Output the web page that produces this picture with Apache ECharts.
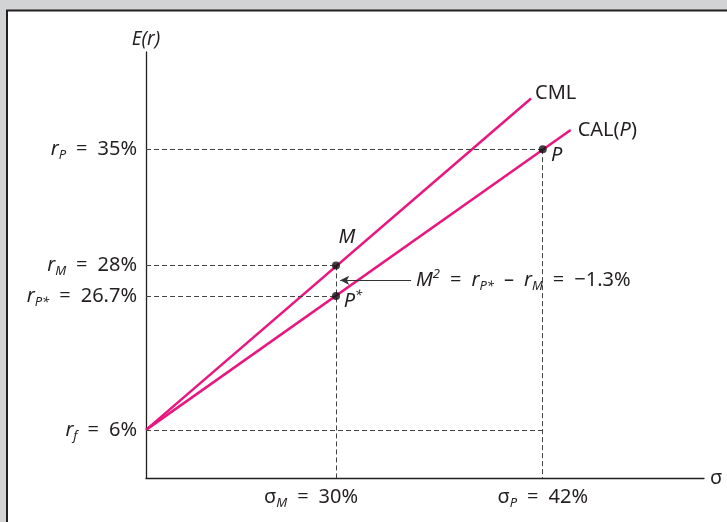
<!DOCTYPE html>
<html><head><meta charset="utf-8">
<script src="https://cdn.jsdelivr.net/npm/echarts@6/dist/echarts.min.js"></script>
<style>html,body{margin:0;padding:0;background:#d1d3d4}#c{width:727px;height:522px}</style>
</head><body><div id="c"></div>
<script>
// Schematic diagram positions (axis units 0-100, the figure is not to scale)
const rfPos = 11.3;
const pointNames = ['M', 'P*', 'P'];
const pointX = [34.05, 34.05, 71.1];
const pointY = [49.9, 42.7, 77.2];
const cmlX = [0, 69.0];
const cmlY = [11.3, 89.1];
const calX = [0, 76.1];
const calY = [11.3, 81.7];
// Tick labels
const yTickPos = [77.2, 49.9, 42.7, 11.3];
const yTickSub = ['P', 'M', 'P*', 'f'];
const yTickText = ['35%', '28%', '26.7%', '6%'];
const xTickPos = [34.05, 71.1];
const xTickSub = ['M', 'P'];
const xTickText = ['30%', '42%'];
const m2Value = '−1.3%';

const PINK = '#e8177f';
const TXT = '#231f20';
const FONT = '"Noto Sans", sans-serif';
const SP = '\u2002';
const FS = 20;

const richBase = {
  n: { fontSize: FS, color: TXT, fontFamily: FONT },
  i: { fontSize: FS, color: TXT, fontFamily: FONT, fontStyle: 'italic' },
  sub: { fontSize: 13, color: TXT, fontFamily: FONT, fontStyle: 'italic', padding: [12, 0, 0, 0] },
  sup: { fontSize: 13, color: TXT, fontFamily: FONT, fontStyle: 'italic', padding: [0, 0, 12, 0] },
  s: { fontSize: FS, color: TXT, fontFamily: FONT },
  padR: { fontSize: FS, color: TXT, fontFamily: FONT, padding: [0, 50, 0, 0] }
};

function idxOf(arr, v) {
  let best = 0, d = Infinity;
  arr.forEach((a, k) => { if (Math.abs(a - v) < d) { d = Math.abs(a - v); best = k; } });
  return best;
}

// dashed guide segments derived from points
const guide = [];
guide.push([[0, pointY[2]], [pointX[2], pointY[2]]]);
guide.push([[0, pointY[0]], [pointX[0], pointY[0]]]);
guide.push([[0, pointY[1]], [pointX[1], pointY[1]]]);
guide.push([[0, rfPos], [pointX[2], rfPos]]);
guide.push([[pointX[0], pointY[0]], [pointX[0], 0]]);
guide.push([[pointX[2], pointY[2]], [pointX[2], 0]]);

const pointLabels = {
  'M': { formatter: '{i|M}', offset: [11, -28] },
  'P*': { formatter: '{i|P}{sup|*}', offset: [17, 5] },
  'P': { formatter: '{i|P}', offset: [14, 6] }
};

const chart = echarts.init(document.getElementById('c'), null, { renderer: 'canvas' });
chart.setOption({
  animation: false,
  backgroundColor: '#d1d3d4',
  graphic: [{
    type: 'rect', z: -10, silent: true,
    shape: { x: 7, y: 10.5, width: 740, height: 530 },
    style: { fill: '#ffffff', stroke: '#231f20', lineWidth: 2 }
  }],
  grid: { left: 146, right: 23, top: 52, bottom: 44 },
  xAxis: {
    type: 'value', min: 0, max: 100,
    name: 'σ', nameLocation: 'end', nameGap: 6,
    nameTextStyle: { fontSize: 20, color: TXT, fontFamily: FONT, verticalAlign: 'middle', padding: [0, 0, 3, 0] },
    axisLine: { show: true, lineStyle: { color: '#231f20', width: 1.3 } },
    axisTick: { show: false },
    splitLine: { show: false },
    axisLabel: {
      customValues: xTickPos, margin: 7, rich: richBase,
      formatter: v => {
        const k = idxOf(xTickPos, v);
        const tail = k === 0 ? '{padR|' + SP + '=' + SP + xTickText[k] + '}' : '{n|' + SP + '=' + SP + xTickText[k] + '}';
        return '{s|σ}{sub|' + xTickSub[k] + '}' + tail;
      }
    }
  },
  yAxis: {
    type: 'value', min: 0, max: 100,
    name: 'E(r)', nameLocation: 'end', nameGap: 3,
    nameTextStyle: { fontSize: 19, color: TXT, fontFamily: FONT, fontStyle: 'italic' },
    axisLine: { show: true, lineStyle: { color: '#231f20', width: 1.3 } },
    axisTick: { show: false },
    splitLine: { show: false },
    axisLabel: {
      customValues: yTickPos, margin: 9, rich: richBase,
      formatter: v => {
        const k = idxOf(yTickPos, v);
        return '{i|r}{sub|' + yTickSub[k] + '}{n|' + SP + '=' + SP + yTickText[k] + '}';
      }
    }
  },
  series: [
    {
      type: 'line', name: 'guides', data: [], silent: true,
      markLine: {
        silent: true, symbol: ['none', 'none'], animation: false,
        label: { show: false },
        lineStyle: { type: [5, 3], color: '#444', width: 1 },
        data: guide.map(g => [{ coord: g[0] }, { coord: g[1] }])
      }
    },
    {
      type: 'line', name: 'CML', showSymbol: false, silent: true,
      data: cmlX.map((x, k) => [x, cmlY[k]]),
      lineStyle: { color: PINK, width: 2.5 },
      endLabel: { show: true, formatter: 'CML', distance: 4, offset: [0, -5], fontSize: FS, color: TXT, fontFamily: FONT }
    },
    {
      type: 'line', name: 'CAL(P)', showSymbol: false, silent: true,
      data: calX.map((x, k) => [x, calY[k]]),
      lineStyle: { color: PINK, width: 2.5 },
      endLabel: { show: true, formatter: '{n|CAL(}{i|P}{n|)}', distance: 7, rich: richBase }
    },
    {
      type: 'line', name: 'arrow', data: [], silent: true,
      markLine: {
        silent: true, symbol: ['arrow', 'none'], symbolSize: [7, 9], animation: false,
        lineStyle: { type: 'solid', color: '#333', width: 1 },
        label: {
          show: true, position: 'end', distance: 5, rich: richBase,
          formatter: '{i|M}{sup|2}{n|' + SP + '=' + SP + '}{i|r}{sub|P*}{n|' + SP + '–' + SP + '}{i|r}{sub|M}{n|' + SP + '=' + SP + m2Value + '}'
        },
        data: [[{ coord: [34.8, 46.4] }, { coord: [47.5, 46.4] }]]
      }
    },
    {
      type: 'scatter', name: 'points', symbolSize: 8, silent: true, z: 5,
      itemStyle: { color: '#111' },
      data: pointNames.map((nm, k) => ({
        value: [pointX[k], pointY[k]],
        label: Object.assign({ show: true, position: 'inside', rich: richBase, color: TXT, textBorderWidth: 0, opacity: 1 }, pointLabels[nm])
      }))
    }
  ]
});
</script></body></html>
